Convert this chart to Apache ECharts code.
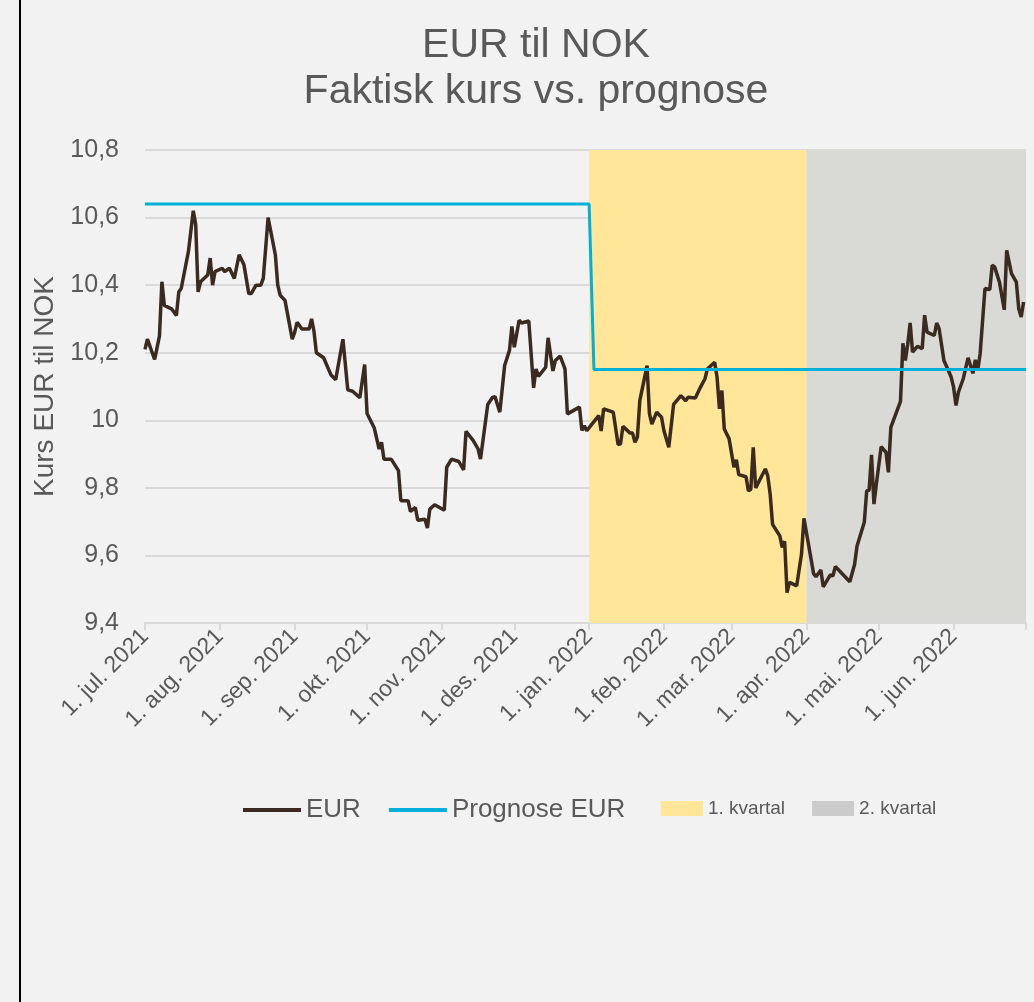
<!DOCTYPE html>
<html>
<head>
<meta charset="utf-8">
<title>EUR til NOK</title>
<script src="https://cdn.jsdelivr.net/npm/echarts@6/dist/echarts.min.js"></script>
<style>
    html, body { margin: 0; padding: 0; background: #f2f2f2; }
    #chart { width: 1034px; height: 1002px; }
</style>
</head>
<body>
<div id="chart"></div>
<script>
// EUR/NOK daglig kurs (lest av grafen)
const eurDates = [
    "2021-07-01", "2021-07-02", "2021-07-05", "2021-07-07", "2021-07-08", "2021-07-09", "2021-07-12", "2021-07-14",
    "2021-07-15", "2021-07-16", "2021-07-19", "2021-07-21", "2021-07-22", "2021-07-23", "2021-07-24", "2021-07-27",
    "2021-07-28", "2021-07-29", "2021-07-30", "2021-08-02", "2021-08-03", "2021-08-05", "2021-08-07", "2021-08-09",
    "2021-08-11", "2021-08-13", "2021-08-14", "2021-08-16", "2021-08-18", "2021-08-19", "2021-08-21", "2021-08-24",
    "2021-08-25", "2021-08-26", "2021-08-28", "2021-08-31", "2021-09-01", "2021-09-02", "2021-09-04", "2021-09-07",
    "2021-09-08", "2021-09-09", "2021-09-10", "2021-09-13", "2021-09-16", "2021-09-18", "2021-09-21", "2021-09-23",
    "2021-09-25", "2021-09-28", "2021-09-30", "2021-10-01", "2021-10-04", "2021-10-06", "2021-10-07", "2021-10-08",
    "2021-10-11", "2021-10-14", "2021-10-15", "2021-10-18", "2021-10-19", "2021-10-21", "2021-10-22", "2021-10-25",
    "2021-10-26", "2021-10-27", "2021-10-29", "2021-11-02", "2021-11-03", "2021-11-05", "2021-11-08", "2021-11-10",
    "2021-11-11", "2021-11-14", "2021-11-16", "2021-11-17", "2021-11-20", "2021-11-22", "2021-11-23", "2021-11-25",
    "2021-11-27", "2021-11-29", "2021-11-30", "2021-12-01", "2021-12-03", "2021-12-04", "2021-12-07", "2021-12-09",
    "2021-12-10", "2021-12-11", "2021-12-14", "2021-12-15", "2021-12-17", "2021-12-18", "2021-12-20", "2021-12-22",
    "2021-12-23", "2021-12-28", "2021-12-29", "2021-12-30", "2021-12-31", "2022-01-02", "2022-01-05", "2022-01-06",
    "2022-01-07", "2022-01-11", "2022-01-13", "2022-01-14", "2022-01-15", "2022-01-18", "2022-01-19", "2022-01-20",
    "2022-01-21", "2022-01-22", "2022-01-25", "2022-01-26", "2022-01-27", "2022-01-29", "2022-01-31", "2022-02-01",
    "2022-02-03", "2022-02-05", "2022-02-07", "2022-02-08", "2022-02-10", "2022-02-11", "2022-02-14", "2022-02-16",
    "2022-02-18", "2022-02-19", "2022-02-22", "2022-02-23", "2022-02-24", "2022-02-25", "2022-02-26", "2022-02-28",
    "2022-03-02", "2022-03-03", "2022-03-04", "2022-03-07", "2022-03-08", "2022-03-09", "2022-03-10", "2022-03-11",
    "2022-03-15", "2022-03-16", "2022-03-17", "2022-03-18", "2022-03-21", "2022-03-22", "2022-03-23", "2022-03-24",
    "2022-03-25", "2022-03-28", "2022-03-30", "2022-03-31", "2022-04-04", "2022-04-05", "2022-04-07", "2022-04-08",
    "2022-04-11", "2022-04-12", "2022-04-13", "2022-04-19", "2022-04-21", "2022-04-22", "2022-04-25", "2022-04-26",
    "2022-04-27", "2022-04-28", "2022-04-29", "2022-04-30", "2022-05-02", "2022-05-04", "2022-05-05", "2022-05-06",
    "2022-05-10", "2022-05-11", "2022-05-12", "2022-05-13", "2022-05-14", "2022-05-15", "2022-05-17", "2022-05-19",
    "2022-05-20", "2022-05-21", "2022-05-24", "2022-05-25", "2022-05-26", "2022-05-28", "2022-05-31", "2022-06-01",
    "2022-06-02", "2022-06-03", "2022-06-05", "2022-06-07", "2022-06-09", "2022-06-10", "2022-06-11", "2022-06-12",
    "2022-06-14", "2022-06-16", "2022-06-17", "2022-06-18", "2022-06-20", "2022-06-22", "2022-06-23", "2022-06-25",
    "2022-06-27", "2022-06-28", "2022-06-29", "2022-06-30"
];
const eurValues = [
    10.21, 10.24, 10.18, 10.25, 10.41, 10.34, 10.33, 10.31,
    10.38, 10.39, 10.50, 10.62, 10.58, 10.38, 10.41, 10.43,
    10.48, 10.40, 10.44, 10.45, 10.44, 10.45, 10.42, 10.49,
    10.46, 10.375, 10.375, 10.40, 10.40, 10.42, 10.60, 10.49,
    10.40, 10.37, 10.355, 10.24, 10.26, 10.29, 10.27, 10.27,
    10.30, 10.264, 10.20, 10.185, 10.135, 10.12, 10.24, 10.09,
    10.086, 10.067, 10.165, 10.02, 9.977, 9.915, 9.935, 9.885,
    9.885, 9.851, 9.762, 9.762, 9.73, 9.742, 9.704, 9.707,
    9.681, 9.737, 9.75, 9.734, 9.861, 9.885, 9.878, 9.853,
    9.967, 9.94, 9.915, 9.885, 10.047, 10.068, 10.07, 10.024,
    10.162, 10.207, 10.278, 10.216, 10.296, 10.288, 10.294, 10.096,
    10.152, 10.13, 10.157, 10.244, 10.146, 10.177, 10.19, 10.152,
    10.019, 10.039, 9.97, 9.984, 9.969, 9.987, 10.014, 9.968,
    10.034, 10.024, 9.928, 9.93, 9.982, 9.962, 9.962, 9.935,
    9.95, 10.058, 10.162, 10.019, 9.989, 10.024, 10.009, 9.969,
    9.92, 10.047, 10.064, 10.073, 10.058, 10.068, 10.066, 10.096,
    10.123, 10.152, 10.172, 10.128, 10.034, 10.088, 9.974, 9.945,
    9.861, 9.883, 9.839, 9.833, 9.791, 9.796, 9.92, 9.80,
    9.856, 9.836, 9.782, 9.692, 9.658, 9.624, 9.642, 9.49,
    9.52, 9.51, 9.604, 9.71, 9.546, 9.537, 9.557, 9.507,
    9.543, 9.539, 9.567, 9.522, 9.574, 9.628, 9.698, 9.791,
    9.793, 9.898, 9.752, 9.811, 9.922, 9.905, 9.846, 9.979,
    10.056, 10.228, 10.177, 10.225, 10.288, 10.202, 10.219, 10.212,
    10.311, 10.261, 10.251, 10.288, 10.271, 10.177, 10.128, 10.098,
    10.044, 10.083, 10.123, 10.185, 10.139, 10.179, 10.147, 10.197,
    10.39, 10.387, 10.459, 10.454, 10.409, 10.327, 10.503, 10.434,
    10.409, 10.33, 10.306, 10.35
];

// prognose
const prognoseDates = ["2021-07-01", "2022-01-01", "2022-01-03", "2022-07-01"];
const prognoseValues = [10.64, 10.64, 10.15, 10.15];

// kvartaler
const quarterNames = ["1. kvartal", "2. kvartal"];
const quarterStart = ["2022-01-01", "2022-04-01"];
const quarterEnd = ["2022-04-01", "2022-07-01"];

const monthNames = ["jan", "feb", "mar", "apr", "mai", "jun", "jul", "aug", "sep", "okt", "nov", "des"];
const xMin = "2021-07-01";
const xMax = "2022-07-01";

const font = "'Liberation Sans', Arial, sans-serif";
const textColor = "#595959";
const eurColor = "#3b2a1f";
const prognoseColor = "#00b0d8";
const quarterColors = ["#ffe699", "#d9d9d5"];
const quarterLegendColors = ["#ffe699", "#cbcbcb"];

const eurData = eurDates.map((d, i) => [d, eurValues[i]]);
const prognoseData = prognoseDates.map((d, i) => [d, prognoseValues[i]]);
const xMaxTime = +echarts.number.parseDate(xMax);

const quarterSeries = quarterNames.map((name, i) => ({
    name: name,
    type: "line",
    data: [],
    color: quarterColors[i],
    itemStyle: { color: quarterColors[i] },
    silent: true,
    markArea: {
        silent: true,
        itemStyle: { color: quarterColors[i], opacity: 1 },
        data: [[{ xAxis: quarterStart[i] }, { xAxis: quarterEnd[i] }]],
    },
}));

const lineIcon = "path://M0,0 H58 V4 H0 Z";

const option = {
    backgroundColor: "#f2f2f2",
    textStyle: { fontFamily: font },
    animation: false,
    title: {
        text: "EUR til NOK\nFaktisk kurs vs. prognose",
        left: 531,
        top: 18,
        textAlign: "center",
        textStyle: {
            fontFamily: font,
            fontSize: 41,
            fontWeight: "normal",
            color: textColor,
            lineHeight: 46,
        },
    },
    grid: {
        left: 145,
        right: 8,
        top: 150,
        bottom: 379,
    },
    legend: [
        {
            data: [
                { name: "EUR", icon: lineIcon, itemStyle: { color: eurColor } },
                { name: "Prognose EUR", icon: lineIcon, itemStyle: { color: prognoseColor } },
            ],
            left: 243,
            top: 797,
            padding: 0,
            itemWidth: 58,
            itemHeight: 14,
            itemGap: 28,
            textStyle: { fontFamily: font, fontSize: 26, color: textColor },
        },
        {
            data: quarterNames.map((n, i) => ({
                name: n,
                icon: "rect",
                itemStyle: { color: quarterLegendColors[i] },
            })),
            left: 661,
            top: 799,
            padding: 0,
            itemWidth: 42,
            itemHeight: 15,
            itemGap: 27,
            textStyle: { fontFamily: font, fontSize: 19, color: textColor },
        },
    ],
    xAxis: {
        type: "time",
        min: xMin,
        max: xMax,
        splitNumber: 12,
        minInterval: 28 * 24 * 3600 * 1000,
        maxInterval: 31 * 24 * 3600 * 1000,
        axisLine: { lineStyle: { color: "#d9d9d9", width: 2 } },
        axisTick: { show: true, length: 7, lineStyle: { color: "#d9d9d9", width: 2 } },
        splitLine: { show: false },
        axisLabel: {
            rotate: 45,
            margin: 10,
            fontSize: 23,
            color: textColor,
            fontFamily: font,
            formatter: function (value) {
                if (value >= xMaxTime) {
                    return "";
                }
                const d = new Date(value);
                return "1. " + monthNames[d.getMonth()] + ". " + d.getFullYear();
            },
        },
    },
    yAxis: {
        type: "value",
        min: 9.4,
        max: 10.8,
        interval: 0.2,
        name: "Kurs EUR til NOK",
        nameLocation: "middle",
        nameGap: 86,
        nameTextStyle: { fontFamily: font, fontSize: 28, color: textColor },
        axisLine: { show: false },
        axisTick: { show: false },
        splitLine: { lineStyle: { color: "#d9d9d9", width: 2 } },
        axisLabel: {
            margin: 26,
            fontSize: 25,
            color: textColor,
            fontFamily: font,
            formatter: function (v) {
                return String(Number(v.toFixed(1))).replace(".", ",");
            },
        },
    },
    graphic: [
        {
            type: "line",
            shape: { x1: 20, y1: 0, x2: 20, y2: 1002 },
            style: { stroke: "#000", lineWidth: 2 },
        },
    ],
    series: quarterSeries.concat([
        {
            name: "EUR",
            type: "line",
            data: eurData,
            showSymbol: false,
            symbol: "none",
            color: eurColor,
            lineStyle: { color: eurColor, width: 3.5 },
            z: 3,
        },
        {
            name: "Prognose EUR",
            type: "line",
            data: prognoseData,
            showSymbol: false,
            symbol: "none",
            color: prognoseColor,
            lineStyle: { color: prognoseColor, width: 3 },
            z: 4,
        },
    ]),
};

const chart = echarts.init(document.getElementById("chart"));
chart.setOption(option);
</script>
</body>
</html>
